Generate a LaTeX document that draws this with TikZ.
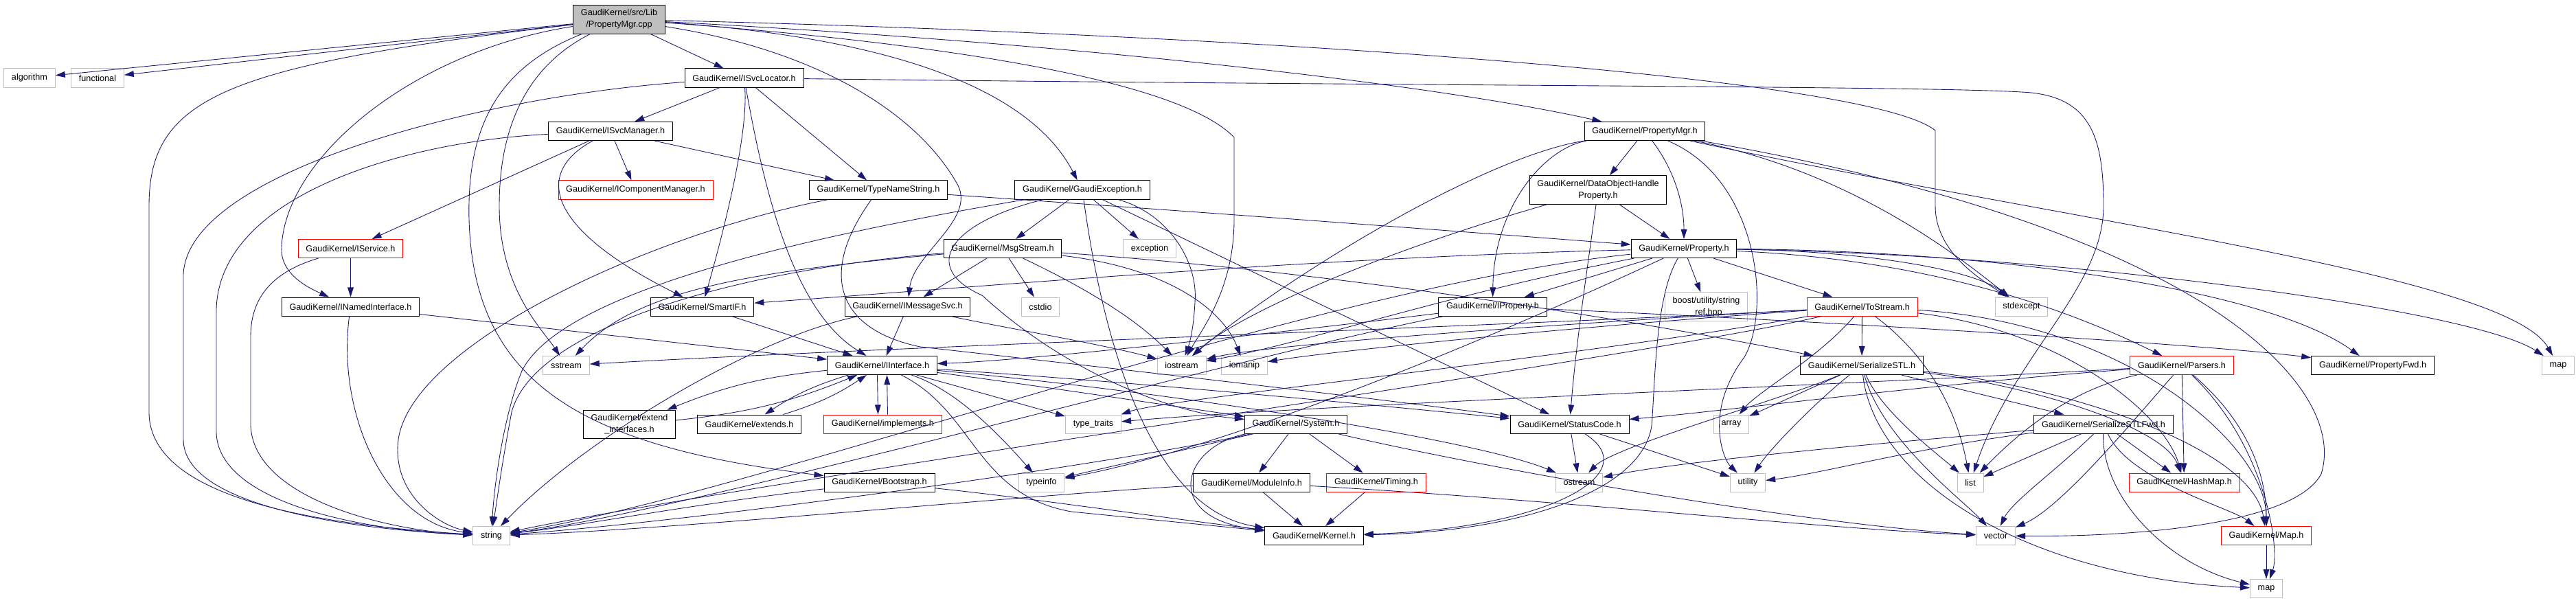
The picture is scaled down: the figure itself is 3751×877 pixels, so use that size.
\documentclass[tikz,border=0pt]{standalone}
\usepackage{fontspec}
\setmainfont{Liberation Sans}
\usetikzlibrary{arrows.meta}
\definecolor{edgeblue}{HTML}{191970}
\definecolor{extgray}{HTML}{BFBFBF}
\tikzset{
  box/.style={draw, line width=0.55pt, inner xsep=6.4pt, inner ysep=0pt, minimum height=15.4pt, font=\fontsize{7.2}{9.5}\selectfont, align=center},
  hdr/.style={box, draw=black},
  trunc/.style={box, draw=red},
  ext/.style={box, draw=extgray},
  mainfile/.style={box, draw=black, fill=extgray, minimum height=23.9pt},
  twoline/.style={minimum height=23.6pt},
  incl/.style={draw=edgeblue, line width=0.5pt, -{Triangle[length=8pt,width=5pt]}},
}
\begin{document}
\begin{tikzpicture}[x=0.02cm,y=-0.02cm]
\useasboundingbox (0,0) rectangle (3751,877);
\node[mainfile] (cpp) at (901.5,28) {GaudiKernel/src/Lib\\/PropertyMgr.cpp};
\node[ext] (algorithm) at (43,113.5) {algorithm};
\node[ext] (functional) at (142,113.5) {functional};
\node[hdr] (svcloc) at (1083.5,113.5) {GaudiKernel/ISvcLocator.h};
\node[hdr] (svcmgr) at (889,191) {GaudiKernel/ISvcManager.h};
\node[hdr] (propmgr) at (2395,191) {GaudiKernel/PropertyMgr.h};
\node[trunc] (compmgr) at (925.5,276.5) {GaudiKernel/IComponentManager.h};
\node[hdr] (typename) at (1279,276.5) {GaudiKernel/TypeNameString.h};
\node[hdr] (gexc) at (1576,276.5) {GaudiKernel/GaudiException.h};
\node[hdr, twoline] (dohp) at (2327,276.5) {GaudiKernel/DataObjectHandle\\Property.h};
\node[trunc] (iservice) at (510.5,362) {GaudiKernel/IService.h};
\node[hdr] (msgstream) at (1460,362) {GaudiKernel/MsgStream.h};
\node[ext] (exception) at (1674,362) {exception};
\node[hdr] (property) at (2452,362) {GaudiKernel/Property.h};
\node[hdr] (inamed) at (510.5,446.5) {GaudiKernel/INamedInterface.h};
\node[hdr] (smartif) at (1022.5,446.5) {GaudiKernel/SmartIF.h};
\node[hdr] (imsgsvc) at (1321.5,446.5) {GaudiKernel/IMessageSvc.h};
\node[ext] (cstdio) at (1515,446.5) {cstdio};
\node[hdr] (iproperty) at (2173.5,446.5) {GaudiKernel/IProperty.h};
\node[ext, twoline] (boost) at (2484.5,446.5) {boost/utility/string\\\_ref.hpp};
\node[trunc] (tostream) at (2711.5,446.5) {GaudiKernel/ToStream.h};
\node[ext] (stdexcept) at (2943.5,446.5) {stdexcept};
\node[ext] (sstream) at (824.5,532) {sstream};
\node[hdr] (iinterface) at (1284.5,532) {GaudiKernel/IInterface.h};
\node[ext] (iostream) at (1720.5,532) {iostream};
\node[ext] (iomanip) at (1812,532) {iomanip};
\node[hdr] (serstl) at (2711,532) {GaudiKernel/SerializeSTL.h};
\node[trunc] (parsers) at (3177,532) {GaudiKernel/Parsers.h};
\node[hdr] (propfwd) at (3455,532) {GaudiKernel/PropertyFwd.h};
\node[ext] (maptop) at (3725,532) {map};
\node[hdr, twoline] (extifs) at (916.5,618) {GaudiKernel/extend\\\_interfaces.h};
\node[hdr] (extends) at (1091,617.5) {GaudiKernel/extends.h};
\node[trunc] (implements) at (1285.5,617.5) {GaudiKernel/implements.h};
\node[ext] (typetraits) at (1592,617.5) {type\_traits};
\node[hdr] (system) at (1887,617.5) {GaudiKernel/System.h};
\node[hdr] (statuscode) at (2285.5,617.5) {GaudiKernel/StatusCode.h};
\node[ext] (array) at (2521,617.5) {array};
\node[hdr] (serstlfwd) at (3063,617.5) {GaudiKernel/SerializeSTLFwd.h};
\node[hdr] (bootstrap) at (1280.5,702.5) {GaudiKernel/Bootstrap.h};
\node[ext] (typeinfo) at (1516.5,702.5) {typeinfo};
\node[hdr] (moduleinfo) at (1822.5,702.5) {GaudiKernel/ModuleInfo.h};
\node[trunc] (timing) at (2004,702.5) {GaudiKernel/Timing.h};
\node[ext] (ostream) at (2299.5,702.5) {ostream};
\node[ext] (utility) at (2545,702.5) {utility};
\node[ext] (list) at (2869,702.5) {list};
\node[trunc] (hashmap) at (3180.5,702.5) {GaudiKernel/HashMap.h};
\node[ext] (string) at (715.5,780) {string};
\node[hdr] (kernel) at (1913.5,780) {GaudiKernel/Kernel.h};
\node[ext] (vector) at (2906,780) {vector};
\node[trunc] (mapgk) at (3300,780) {GaudiKernel/Map.h};
\node[ext] (map) at (3300,857) {map};
\draw[incl] (cpp) -- (algorithm);
\draw[incl] (cpp) -- (functional);
\draw[incl] (cpp) .. controls (330,95) and (217,140) .. (217,300) -- (217,600) .. controls (217,730) and (480,765) .. (string);
\draw[incl] (cpp) .. controls (600,75) and (415,230) .. (410,360) .. controls (408,395) and (440,415) .. (inamed);
\draw[incl] (cpp) -- (svcloc);
\draw[incl] (cpp) .. controls (770,95) and (727,180) .. (727,300) .. controls (727,420) and (790,480) .. (sstream);
\draw[incl] (cpp) .. controls (720,100) and (680,190) .. (683,320) .. controls (690,560) and (850,650) .. (bootstrap);
\draw[incl] (cpp) .. controls (1200,75) and (1340,170) .. (1395,270) .. controls (1420,320) and (1330,370) .. (imsgsvc);
\draw[incl] (cpp) .. controls (1300,55) and (1500,130) .. (gexc);
\draw[incl] (cpp) .. controls (1400,65) and (1720,120) .. (1797,200) -- (1797,320) .. controls (1797,420) and (1750,480) .. (iostream);
\draw[incl] (cpp) .. controls (1600,65) and (2100,125) .. (propmgr);
\draw[incl] (cpp) .. controls (1800,50) and (2720,110) .. (2818,190) -- (2818,300) .. controls (2818,370) and (2890,410) .. (stdexcept);
\draw[incl] (svcloc) -- (svcmgr);
\draw[incl] (svcloc) -- (typename);
\draw[incl] (svcloc) .. controls (1090,200) and (1050,350) .. (smartif);
\draw[incl] (svcloc) .. controls (1110,260) and (1150,450) .. (iinterface);
\draw[incl] (svcloc) .. controls (700,140) and (272,250) .. (267,400) -- (267,640) .. controls (267,735) and (500,770) .. (string);
\draw[incl] (svcloc) .. controls (2000,125) and (2800,125) .. (2943,134) .. controls (3045,138) and (3063,200) .. (3063,300) .. controls (3063,420) and (2930,520) .. (list);
\draw[incl] (svcmgr) -- (compmgr);
\draw[incl] (svcmgr) -- (iservice);
\draw[incl] (svcmgr) -- (typename);
\draw[incl] (svcmgr) .. controls (780,250) and (790,330) .. (smartif);
\draw[incl] (svcmgr) .. controls (600,205) and (320,280) .. (315,450) -- (315,630) .. controls (318,730) and (520,772) .. (string);
\draw[incl] (iservice) -- (inamed);
\draw[incl] (iservice) .. controls (400,395) and (365,430) .. (365,490) -- (365,620) .. controls (370,725) and (560,772) .. (string);
\draw[incl] (inamed) -- (iinterface);
\draw[incl] (inamed) .. controls (490,600) and (560,760) .. (string);
\draw[incl] (typename) .. controls (950,340) and (600,500) .. (580,640) .. controls (570,720) and (640,765) .. (string);
\draw[incl] (typename) .. controls (1700,305) and (2100,335) .. (property);
\draw[incl] (typename) .. controls (1190,400) and (1220,480) .. (1340,505) .. controls (1700,545) and (2000,580) .. (statuscode);
\draw[incl] (gexc) -- (msgstream);
\draw[incl] (gexc) -- (exception);
\draw[incl] (gexc) .. controls (1700,310) and (1745,380) .. (1740,440) .. controls (1738,480) and (1732,500) .. (iostream);
\draw[incl] (gexc) -- (statuscode);
\draw[incl] (gexc) .. controls (1380,325) and (1340,390) .. (1430,430) .. controls (1550,540) and (1700,600) .. (system);
\draw[incl] (gexc) .. controls (1600,450) and (1660,740) .. (kernel);
\draw[incl] (gexc) .. controls (1200,340) and (820,420) .. (760,540) .. controls (735,600) and (720,700) .. (string);
\draw[incl] (msgstream) -- (imsgsvc);
\draw[incl] (msgstream) -- (cstdio);
\draw[incl] (msgstream) .. controls (1100,395) and (930,420) .. (sstream);
\draw[incl] (msgstream) .. controls (1100,390) and (780,470) .. (745,600) .. controls (730,680) and (725,720) .. (string);
\draw[incl] (msgstream) .. controls (1540,400) and (1640,450) .. (iostream);
\draw[incl] (msgstream) .. controls (1700,390) and (1780,450) .. (iomanip);
\draw[incl] (msgstream) .. controls (2000,400) and (2450,480) .. (serstl);
\draw[incl] (smartif) -- (iinterface);
\draw[incl] (imsgsvc) -- (iinterface);
\draw[incl] (imsgsvc) .. controls (1100,490) and (850,640) .. (string);
\draw[incl] (imsgsvc) .. controls (1450,475) and (1600,500) .. (iostream);
\draw[incl] (iinterface) to[bend right=8] (extifs);
\draw[incl] (extifs) to[bend right=8] (iinterface);
\draw[incl] (iinterface) to[bend right=8] (extends);
\draw[incl] (extends) to[bend right=8] (iinterface);
\draw[incl] ([xshift=-0.14cm]iinterface.south) -- ([xshift=-0.14cm]implements.north);
\draw[incl] ([xshift=0.14cm]implements.north) -- ([xshift=0.14cm]iinterface.south);
\draw[incl] (iinterface) .. controls (1400,570) and (1470,650) .. (typeinfo);
\draw[incl] (iinterface) -- (typetraits);
\draw[incl] (iinterface) .. controls (1500,560) and (1700,590) .. (system);
\draw[incl] (iinterface) .. controls (1700,560) and (2000,590) .. (statuscode);
\draw[incl] (iinterface) .. controls (1700,570) and (2150,640) .. (ostream);
\draw[incl] (iinterface) .. controls (1420,600) and (1420,720) .. (1560,745) -- (kernel);
\draw[incl] (bootstrap) .. controls (1000,735) and (850,765) .. (string);
\draw[incl] (bootstrap) .. controls (1500,725) and (1700,755) .. (kernel);
\draw[incl] (system) -- (moduleinfo);
\draw[incl] (system) -- (timing);
\draw[incl] (system) .. controls (1720,650) and (1690,755) .. (kernel);
\draw[incl] (system) -- (typeinfo);
\draw[incl] (system) .. controls (1600,680) and (1000,760) .. (string);
\draw[incl] (system) .. controls (2200,690) and (2650,765) .. (vector);
\draw[incl] (moduleinfo) -- (kernel);
\draw[incl] (moduleinfo) .. controls (1500,720) and (1000,770) .. (string);
\draw[incl] (moduleinfo) .. controls (2300,730) and (2650,770) .. (vector);
\draw[incl] (timing) -- (kernel);
\draw[incl] (statuscode) -- (ostream);
\draw[incl] (statuscode) .. controls (2400,690) and (2250,770) .. (kernel);
\draw[incl] (statuscode) -- (utility);
\draw[incl] (property) -- (iproperty);
\draw[incl] (property) .. controls (1900,375) and (1400,420) .. (smartif);
\draw[incl] (property) -- (boost);
\draw[incl] (property) .. controls (2410,430) and (2410,560) .. (2405,620) .. controls (2390,720) and (2200,775) .. (kernel);
\draw[incl] (property) -- (tostream);
\draw[incl] (property) .. controls (2700,365) and (2870,390) .. (stdexcept);
\draw[incl] (property) .. controls (2900,365) and (3300,420) .. (propfwd);
\draw[incl] (property) .. controls (2850,380) and (3050,470) .. (parsers);
\draw[incl] (property) .. controls (3000,370) and (3600,450) .. (maptop);
\draw[incl] (property) .. controls (1900,420) and (1100,720) .. (string);
\draw[incl] (property) .. controls (2200,480) and (1800,650) .. (typeinfo);
\draw[incl] (property) .. controls (2100,430) and (1900,500) .. (iostream);
\draw[incl] (iproperty) .. controls (1900,480) and (1500,525) .. (iinterface);
\draw[incl] (iproperty) .. controls (1800,520) and (1000,745) .. (string);
\draw[incl] (iproperty) .. controls (2600,465) and (3200,500) .. (propfwd);
\draw[incl] (dohp) -- (property);
\draw[incl] (dohp) .. controls (2310,400) and (2295,500) .. (statuscode);
\draw[incl] (dohp) .. controls (2000,370) and (1800,460) .. (iostream);
\draw[incl] (propmgr) .. controls (2250,215) and (2175,300) .. (iproperty);
\draw[incl] (propmgr) -- (dohp);
\draw[incl] (propmgr) .. controls (2440,250) and (2452,300) .. (property);
\draw[incl] (propmgr) .. controls (2560,260) and (2580,450) .. (2540,520) .. controls (2480,600) and (2510,670) .. (utility);
\draw[incl] (propmgr) .. controls (2700,250) and (2860,380) .. (stdexcept);
\draw[incl] (propmgr) .. controls (3000,320) and (3650,400) .. (maptop);
\draw[incl] (propmgr) .. controls (3200,330) and (3420,560) .. (3380,690) .. controls (3340,765) and (3100,782) .. (vector);
\draw[incl] (propmgr) .. controls (2150,230) and (1850,420) .. (iostream);
\draw[incl] (tostream) -- (serstl);
\draw[incl] (tostream) .. controls (2300,470) and (1300,505) .. (sstream);
\draw[incl] (tostream) .. controls (2300,475) and (1950,510) .. (iomanip);
\draw[incl] (tostream) .. controls (2300,470) and (1850,500) .. (iostream);
\draw[incl] (tostream) .. controls (2400,520) and (1100,700) .. (string);
\draw[incl] (tostream) .. controls (2810,520) and (2850,600) .. (list);
\draw[incl] (tostream) .. controls (2650,520) and (2560,570) .. (array);
\draw[incl] (tostream) .. controls (3000,480) and (3150,600) .. (hashmap);
\draw[incl] (tostream) .. controls (3100,470) and (3300,650) .. (mapgk);
\draw[incl] (tostream) .. controls (2300,520) and (1700,580) .. (typetraits);
\draw[incl] (serstl) -- (serstlfwd);
\draw[incl] (serstl) .. controls (2740,600) and (2820,660) .. (list);
\draw[incl] (serstl) .. controls (2740,640) and (2860,730) .. (vector);
\draw[incl] (serstl) .. controls (2730,700) and (2950,840) .. (map);
\draw[incl] (serstl) .. controls (2600,580) and (2350,650) .. (ostream);
\draw[incl] (serstl) -- (array);
\draw[incl] (serstl) .. controls (2650,580) and (2580,650) .. (utility);
\draw[incl] (serstl) .. controls (2950,560) and (3150,620) .. (hashmap);
\draw[incl] (serstl) .. controls (3000,560) and (3280,650) .. (mapgk);
\draw[incl] (serstlfwd) -- (list);
\draw[incl] (serstlfwd) .. controls (3000,680) and (2930,730) .. (vector);
\draw[incl] (serstlfwd) .. controls (3060,720) and (3150,820) .. (map);
\draw[incl] (serstlfwd) .. controls (2800,640) and (2450,670) .. (ostream);
\draw[incl] (serstlfwd) .. controls (2800,650) and (2650,690) .. (utility);
\draw[incl] (serstlfwd) -- (hashmap);
\draw[incl] (serstlfwd) .. controls (3100,700) and (3250,740) .. (mapgk);
\draw[incl] (parsers) .. controls (2800,560) and (2500,600) .. (statuscode);
\draw[incl] (parsers) .. controls (3000,570) and (2920,650) .. (list);
\draw[incl] (parsers) .. controls (3100,620) and (3000,740) .. (vector);
\draw[incl] (parsers) .. controls (3300,650) and (3320,800) .. (map);
\draw[incl] (parsers) .. controls (3280,620) and (3300,700) .. (mapgk);
\draw[incl] (parsers) -- (hashmap);
\draw[incl] (parsers) .. controls (2700,560) and (1900,590) .. (typetraits);
\draw[incl] (mapgk) -- (map);
\end{tikzpicture}
\end{document}
